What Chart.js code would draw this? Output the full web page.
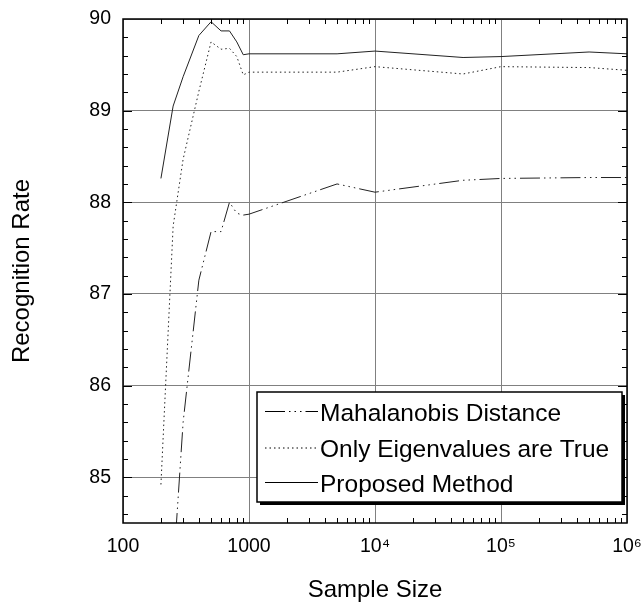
<!DOCTYPE html>
<html>
<head>
<meta charset="utf-8">
<title>Recognition Rate vs Sample Size</title>
<script src="https://cdn.jsdelivr.net/npm/chart.js@4.4.1/dist/chart.umd.min.js"></script>
<style>
  html, body { margin: 0; padding: 0; background: #fff; }
  #wrap { width: 642px; height: 611px; }
</style>
</head>
<body>
<div id="wrap"><canvas id="chart" width="642" height="611"></canvas></div>
<script>
// values
const sampleSizes = [200, 250, 300, 400, 500, 600, 700, 800, 900, 1000, 5000, 10000, 50000, 100000, 500000, 1000000];
const mahalanobis = [null, 83.95, 85.6, 87.15, 87.68, 87.68, 88.0, 87.88, 87.86, 87.87, 88.2, 88.11, 88.24, 88.26, 88.27, 88.27];
const eigenOnly = [84.92, 87.74, 88.47, 89.21, 89.75, 89.67, 89.68, 89.59, 89.39, 89.42, 89.42, 89.48, 89.4, 89.48, 89.47, 89.44];
const proposed = [88.26, 89.05, 89.37, 89.82, 89.97, 89.87, 89.87, 89.75, 89.61, 89.62, 89.62, 89.65, 89.58, 89.59, 89.64, 89.62];

const seriesNames = ['Mahalanobis Distance', 'Only Eigenvalues are True', 'Proposed Method'];

const xTickValues = [100, 1000, 10000, 100000, 1000000];
const xTickLabels = ['100', '1000', '10\u2074', '10\u2075', '10\u2076'];
const yTickValues = [85, 86, 87, 88, 89, 90];

const FONT = "'Liberation Sans', Arial, Helvetica, sans-serif";

function toPoints(values) {
    return sampleSizes.map((s, i) => ({ x: s, y: values[i] }));
}

// inward tick marks + black frame on all four sides
const frameTicks = {
    id: 'frameTicks',
    afterDatasetsDraw(chart) {
        const { ctx, chartArea: a, scales } = chart;
        const x = scales.x, y = scales.y;
        ctx.save();
        ctx.strokeStyle = '#000';
        ctx.lineWidth = 1;
        ctx.beginPath();
        // y minor ticks every 0.2
        for (let i = 846; i < 900; i += 2) {
            let v = i / 10;
            let major = i % 10 === 0;
            let len = major ? 9 : 5;
            let py = Math.round(y.getPixelForValue(v)) + 0.5;
            ctx.moveTo(a.left, py); ctx.lineTo(a.left + len, py);
            ctx.moveTo(a.right, py); ctx.lineTo(a.right - len, py);
        }
        // x minor ticks 2..9 per decade
        for (let d = 100; d < 1000000; d *= 10) {
            for (let m = 2; m <= 9; m++) {
                let px = Math.round(x.getPixelForValue(d * m)) + 0.5;
                ctx.moveTo(px, a.bottom); ctx.lineTo(px, a.bottom - 5);
                ctx.moveTo(px, a.top); ctx.lineTo(px, a.top + 5);
            }
        }
        ctx.stroke();
        ctx.lineWidth = 1.5;
        ctx.strokeRect(a.left, a.top, a.right - a.left, a.bottom - a.top);
        ctx.restore();
    }
};

// boxed legend with drop shadow, inside the plot
const boxLegend = {
    id: 'boxLegend',
    afterDraw(chart) {
        const ctx = chart.ctx;
        const bx = 257, by = 392, bw = 365, bh = 110;
        ctx.save();
        ctx.fillStyle = '#000';
        ctx.fillRect(bx + 3, by + 3, bw, bh);
        ctx.fillStyle = '#fff';
        ctx.fillRect(bx, by, bw, bh);
        ctx.strokeStyle = '#000';
        ctx.lineWidth = 1.5;
        ctx.strokeRect(bx, by, bw, bh);

        const lineY = [411, 447.5, 482];
        const textY = [420.5, 457, 491.5];
        ctx.font = '24.5px ' + FONT;
        ctx.textBaseline = 'alphabetic';
        ctx.textAlign = 'left';
        chart.data.datasets.forEach((ds, i) => {
            ctx.beginPath();
            ctx.setLineDash(ds.borderDash || []);
            ctx.lineWidth = 1;
            ctx.strokeStyle = '#000';
            ctx.moveTo(265, lineY[i] + 0.5);
            ctx.lineTo(318, lineY[i] + 0.5);
            ctx.stroke();
            ctx.setLineDash([]);
            ctx.fillStyle = '#000';
            ctx.fillText(ds.label, 320, textY[i]);
        });
        ctx.restore();
    }
};

var ctx = document.getElementById('chart').getContext('2d');
new Chart(ctx, {
    type: 'line',
    data: {
        datasets: [
            {
                label: seriesNames[0],
                data: toPoints(mahalanobis),
                borderColor: '#222',
                borderWidth: 1,
                borderDash: [20, 4, 1.5, 4, 1.5, 4, 1.5, 4]
            },
            {
                label: seriesNames[1],
                data: toPoints(eigenOnly),
                borderColor: '#222',
                borderWidth: 1,
                borderDash: [1.5, 3]
            },
            {
                label: seriesNames[2],
                data: toPoints(proposed),
                borderColor: '#222',
                borderWidth: 1
            }
        ]
    },
    options: {
        responsive: false,
        animation: false,
        layout: { padding: { top: 19, right: 15, left: 0, bottom: 0 } },
        elements: {
            point: { radius: 0 },
            line: { tension: 0 }
        },
        plugins: {
            legend: { display: false },
            tooltip: { enabled: false }
        },
        scales: {
            x: {
                type: 'logarithmic',
                min: 100,
                max: 1000000,
                afterBuildTicks: (scale) => {
                    scale.ticks = xTickValues.map(v => ({ value: v }));
                },
                afterFit: (scale) => {
                    scale.height = 88;
                    scale.paddingLeft = 0;
                    scale.paddingRight = 0;
                },
                ticks: {
                    autoSkip: false,
                    maxRotation: 0,
                    padding: 12,
                    color: '#000',
                    font: { family: FONT, size: 19.5 },
                    callback: (value) => {
                        let i = xTickValues.indexOf(value);
                        return i >= 0 ? xTickLabels[i] : '';
                    }
                },
                grid: { color: '#808080', lineWidth: 1, drawTicks: false },
                border: { display: false },
                title: {
                    display: true,
                    text: 'Sample Size',
                    color: '#000',
                    font: { family: FONT, size: 24 },
                    padding: { top: 0, bottom: 6 }
                }
            },
            y: {
                min: 84.5,
                max: 90,
                afterBuildTicks: (scale) => {
                    scale.ticks = yTickValues.map(v => ({ value: v }));
                },
                afterFit: (scale) => {
                    scale.width = 123;
                    scale.paddingTop = 0;
                    scale.paddingBottom = 0;
                },
                ticks: {
                    padding: 12,
                    color: '#000',
                    font: { family: FONT, size: 19.5 }
                },
                grid: { color: '#808080', lineWidth: 1, drawTicks: false },
                border: { display: false },
                title: {
                    display: true,
                    text: 'Recognition Rate',
                    color: '#000',
                    font: { family: FONT, size: 24 },
                    padding: { top: 8, bottom: 0 }
                }
            }
        }
    },
    plugins: [frameTicks, boxLegend]
});
</script>
</body>
</html>
